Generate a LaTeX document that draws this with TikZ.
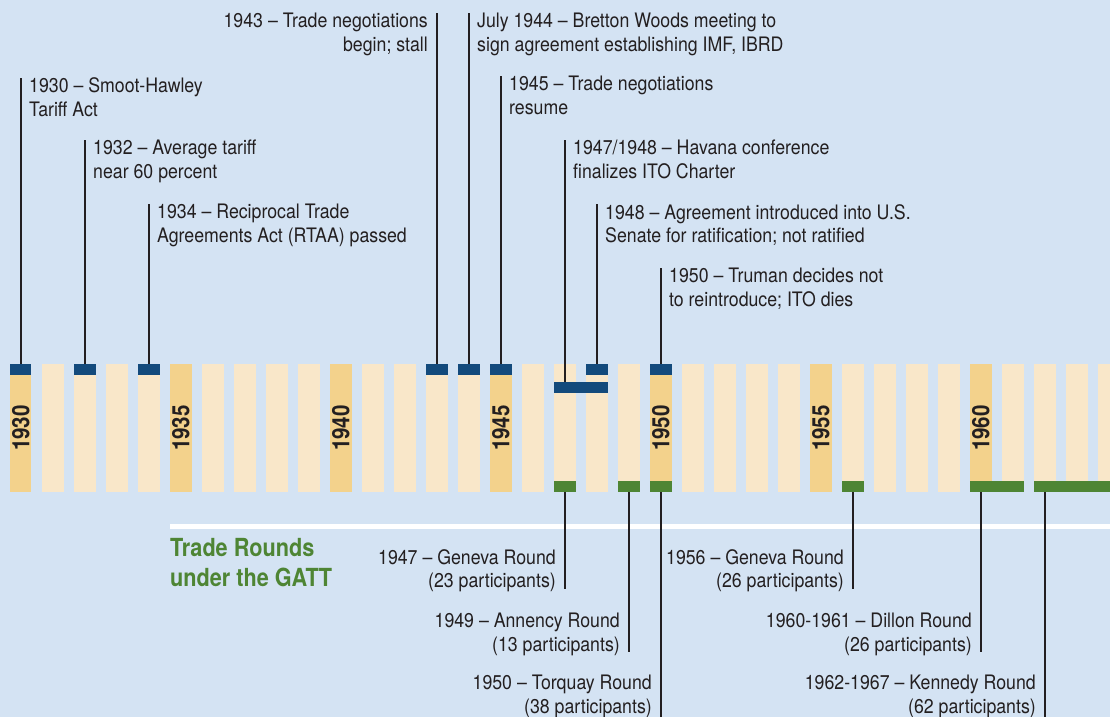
\documentclass[tikz,border=0pt]{standalone}
\usepackage{fontspec}
\usetikzlibrary{calc}
\setmainfont{TeX Gyre Heros}
\newfontfamily\lblfont{TeX Gyre Heros}[FakeStretch=0.89]
\newfontfamily\yrfont{TeX Gyre Heros}[FakeStretch=0.86]
\newfontfamily\ttlfont{TeX Gyre Heros}[FakeStretch=0.87]
\definecolor{bgblue}{HTML}{D4E3F3}
\definecolor{barlight}{HTML}{F9E7C9}
\definecolor{bardark}{HTML}{F3D28C}
\definecolor{navy}{HTML}{134A7C}
\definecolor{gattgreen}{HTML}{4E8534}
\definecolor{ink}{HTML}{231F20}
\begin{document}
\begin{tikzpicture}[x=1bp,y=-1bp,
  yearbar/.style={draw=none, anchor=north west, inner sep=0, minimum width=21.3bp, minimum height=127.7bp},
  navycap/.style={fill=navy, draw=none, anchor=north, inner sep=0, minimum width=21.3bp, minimum height=10.5bp},
  navybar/.style={fill=navy, draw=none, anchor=north west, inner sep=0, minimum height=11bp},
  greencap/.style={fill=gattgreen, draw=none, anchor=south, inner sep=0, minimum width=21.3bp, minimum height=10.5bp},
  yrlbl/.style={rotate=90, inner sep=0, text=ink, font=\yrfont\bfseries\fontsize{24}{24}\selectfont},
  lbl/.style={inner sep=0, text=ink, font=\lblfont\fontsize{20}{24}\selectfont},
  toplbl/.style={lbl, anchor=north west, align=left},
  botlbl/.style={lbl, anchor=north east, align=right},
  title/.style={inner sep=0, anchor=north west, align=left, text=gattgreen, font=\ttlfont\bfseries\fontsize{25}{29.6}\selectfont},
  lead/.style={draw=ink, line width=1.4bp}
]
\useasboundingbox (0,0) rectangle (1110,717);
\clip (0,0) rectangle (1110,717);
\fill[bgblue] (0,0) rectangle (1110,717);
\draw[white, line width=5bp] (170,526.5) -- (1115,526.5);

% year bars
\foreach \i in {0,...,34}{
  \pgfmathtruncatemacro\yr{1930+\i}
  \pgfmathtruncatemacro\md{mod(\i,5)}
  \ifnum\md=0 \def\bc{bardark}\else\def\bc{barlight}\fi
  \node[yearbar, fill=\bc] (b\yr) at ({10+32*\i},364) {};
}
\foreach \yr in {1930,1935,...,1960}
  \node[yrlbl] (l\yr) at (b\yr.center) {\yr};

% navy caps
\foreach \yr in {1930,1932,1934,1943,1944,1945,1948,1950}
  \node[navycap] (c\yr) at (b\yr.north) {};
\node[navybar, minimum width=53.3bp] (hav) at ([yshift=-18bp]b1947.north west) {};

% green caps
\foreach \yr in {1947,1949,1950,1956}
  \node[greencap] (g\yr) at (b\yr.south) {};
\node[greencap, anchor=south west, minimum width=53.3bp] (g1960) at (b1960.south west) {};
\node[greencap, anchor=south west, minimum width=100bp] (g1962) at (b1962.south west) {};

% top labels
\node[toplbl] (t1930) at (29,77.7) {1930 – Smoot-Hawley\\Tariff Act};
\node[toplbl] (t1932) at (93,140) {1932 – Average tariff\\near 60 percent};
\node[toplbl] (t1934) at (157,204) {1934 – Reciprocal Trade\\Agreements Act (RTAA) passed};
\node[lbl, anchor=north east, align=right] (t1943) at (428,12.7) {1943 – Trade negotiations\\begin; stall};
\node[toplbl] (t1944) at (477,12.7) {July 1944 – Bretton Woods meeting to\\sign agreement establishing IMF, IBRD};
\node[toplbl] (t1945) at (509,76) {1945 – Trade negotiations\\resume};
\node[toplbl] (thav) at (573,140) {1947/1948 – Havana conference\\finalizes ITO Charter};
\node[toplbl] (t1948) at (605,204) {1948 – Agreement introduced into U.S.\\Senate for ratification; not ratified};
\node[toplbl] (t1950) at (669,268) {1950 – Truman decides not\\to reintroduce; ITO dies};

\foreach \yr in {1930,1932,1934,1943,1944,1945,1948,1950}
  \draw[lead] (c\yr.north) -- (c\yr.north |- t\yr.north);
\draw[lead] (b1947.center |- hav.north) -- (b1947.center |- thav.north);

% bottom section
\node[title] (gatt) at (170,538.5) {Trade Rounds\\under the GATT};
\node[botlbl] (r1947) at (556,549) {1947 – Geneva Round\\(23 participants)};
\node[botlbl] (r1949) at (620,612.6) {1949 – Annency Round\\(13 participants)};
\node[botlbl] (r1950) at (652,674.5) {1950 – Torquay Round\\(38 participants)};
\node[botlbl] (r1956) at (844,549) {1956 – Geneva Round\\(26 participants)};
\node[botlbl] (r1960) at (972,612.6) {1960-1961 – Dillon Round\\(26 participants)};
\node[botlbl] (r1962) at (1036,674.5) {1962-1967 – Kennedy Round\\(62 participants)};
\coordinate (bottomedge) at (0,720);

\foreach \yr in {1947,1949,1956}
  \draw[lead] (g\yr.south) -- ($(g\yr.south |- r\yr.south)+(0,-4)$);
\draw[lead] (b1960.south) -- ($(b1960.south |- r1960.south)+(0,-4)$);
\draw[lead] (g1950.south) -- (g1950.south |- bottomedge);
\draw[lead] (b1962.south) -- (b1962.south |- bottomedge);
\end{tikzpicture}
\end{document}
